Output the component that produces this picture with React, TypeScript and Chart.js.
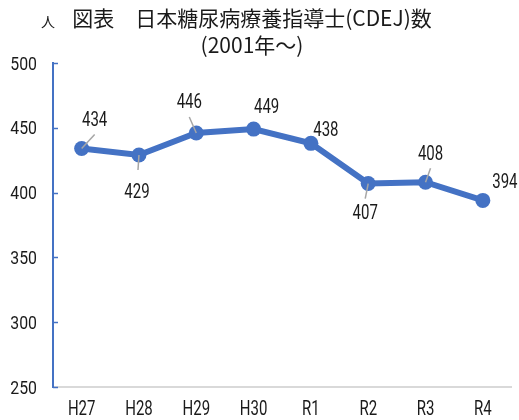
import React, { useEffect, useRef } from "react";
import { Chart, registerables } from "chart.js";

Chart.register(...registerables);

const categories = ["H27", "H28", "H29", "H30", "R1", "R2", "R3", "R4"];
const cdejCounts = [434, 429, 446, 449, 438, 407, 408, 394];
const yMin = 250;
const yMax = 500;
const yStep = 50;
const titleLine1 = "図表　日本糖尿病療養指導士(CDEJ)数";
const titleLine2 = "(2001年～)";
const unitLabel = "人";

// label placement relative to each point (pixels): label centre offset
const labelOffsets: [number, number][] = [
  [13, -30], [-2, 35], [-7, -32], [13, -24], [15, -15], [-3, 28], [5, -30], [22, -20],
];
const leaderEnds: ([number, number] | null)[] = [
  [13, -14], [-1, 15], [-7, -16], null, null, [-3, 15], [5, -14], null,
];

const NUM_FONT = 'Roboto, "Noto Sans CJK JP", sans-serif';
const JP_FONT = '"Noto Sans CJK JP", sans-serif';
const BLUE = "#4472C4";
const TEXT = "#1a1a1a";

function drawNarrow(
  ctx: CanvasRenderingContext2D,
  text: string,
  x: number,
  baseline: number,
  size: number,
  sx: number,
  align: CanvasTextAlign
) {
  ctx.save();
  ctx.font = `${size}px ${NUM_FONT}`;
  ctx.textAlign = align;
  ctx.textBaseline = "alphabetic";
  ctx.fillStyle = TEXT;
  ctx.translate(x, baseline);
  ctx.scale(sx, 1);
  ctx.fillText(text, 0, 0);
  ctx.restore();
}

const overlayPlugin = {
  id: "overlay",
  afterDraw(chart: any) {
    const ctx = chart.ctx;
    const area = chart.chartArea;
    ctx.save();
    const y = chart.scales.y;
    const x = chart.scales.x;
    // inward tick marks and labels on the y axis
    ctx.strokeStyle = BLUE;
    ctx.lineWidth = 1.5;
    for (let v = yMin; v <= yMax; v += yStep) {
      const py = y.getPixelForValue(v);
      const rp = Math.round(py) + 0.5;
      ctx.beginPath();
      ctx.moveTo(area.left, rp);
      ctx.lineTo(area.left + 5, rp);
      ctx.stroke();
      drawNarrow(ctx, String(v), area.left - 16, py + 6.5, 18, 0.88, "right");
    }
    // category labels
    categories.forEach((c, i) => {
      const px = x.getPixelForTick(i);
      drawNarrow(ctx, c, px, area.bottom + 28, 20, 0.75, "center");
    });
    // titles
    ctx.fillStyle = TEXT;
    ctx.textAlign = "center";
    ctx.textBaseline = "middle";
    ctx.font = `21px ${JP_FONT}`;
    ctx.fillText(titleLine1, 252, 18);
    ctx.fillText(titleLine2, 252, 45);
    ctx.font = `14px ${JP_FONT}`;
    ctx.fillText(unitLabel, 48, 22);
    ctx.restore();
  },
  afterDatasetsDraw(chart: any) {
    const ctx = chart.ctx;
    const meta = chart.getDatasetMeta(0);
    ctx.save();
    meta.data.forEach((pt: any, i: number) => {
      const le = leaderEnds[i];
      if (le) {
        ctx.strokeStyle = "#A6A6A6";
        ctx.lineWidth = 1.5;
        ctx.beginPath();
        ctx.moveTo(pt.x, pt.y);
        ctx.lineTo(pt.x + le[0], pt.y + le[1]);
        ctx.stroke();
      }
      const [dx, dy] = labelOffsets[i];
      drawNarrow(ctx, String(cdejCounts[i]), pt.x + dx, pt.y + dy + 7.5, 20, 0.75, "center");
    });
    ctx.restore();
  },
};

export default function App() {
  const ref = useRef<HTMLCanvasElement | null>(null);
  useEffect(() => {
    document.body.style.margin = "0";
    const canvas = ref.current;
    if (!canvas) return;
    const chart = new Chart(canvas, {
      type: "line",
      data: {
        labels: categories,
        datasets: [
          {
            data: cdejCounts,
            borderColor: BLUE,
            backgroundColor: BLUE,
            borderWidth: 6,
            pointRadius: 7.5,
            pointHoverRadius: 7.5,
            pointBackgroundColor: BLUE,
            pointBorderWidth: 0,
            tension: 0,
          },
        ],
      },
      options: {
        responsive: false,
        animation: false,
        layout: { padding: { left: 0, right: 5, top: 63, bottom: 0 } },
        plugins: { legend: { display: false }, title: { display: false }, tooltip: { enabled: false } },
        scales: {
          x: {
            type: "category",
            offset: true,
            grid: { display: false, drawTicks: false },
            border: { display: true, color: "#D9D9D9", width: 2 },
            ticks: { display: false },
            afterFit: (s: any) => { s.height = 33; },
          },
          y: {
            min: yMin,
            max: yMax,
            ticks: { display: false, stepSize: yStep },
            grid: { display: false, drawTicks: false },
            border: { display: true, color: BLUE, width: 2 },
            afterFit: (s: any) => { s.width = 53; },
          },
        },
      },
      plugins: [overlayPlugin],
    });
    return () => chart.destroy();
  }, []);
  return (
    <div style={{ width: 519, height: 420 }}>
      <canvas ref={ref} width={519} height={420} style={{ display: "block" }} />
    </div>
  );
}
